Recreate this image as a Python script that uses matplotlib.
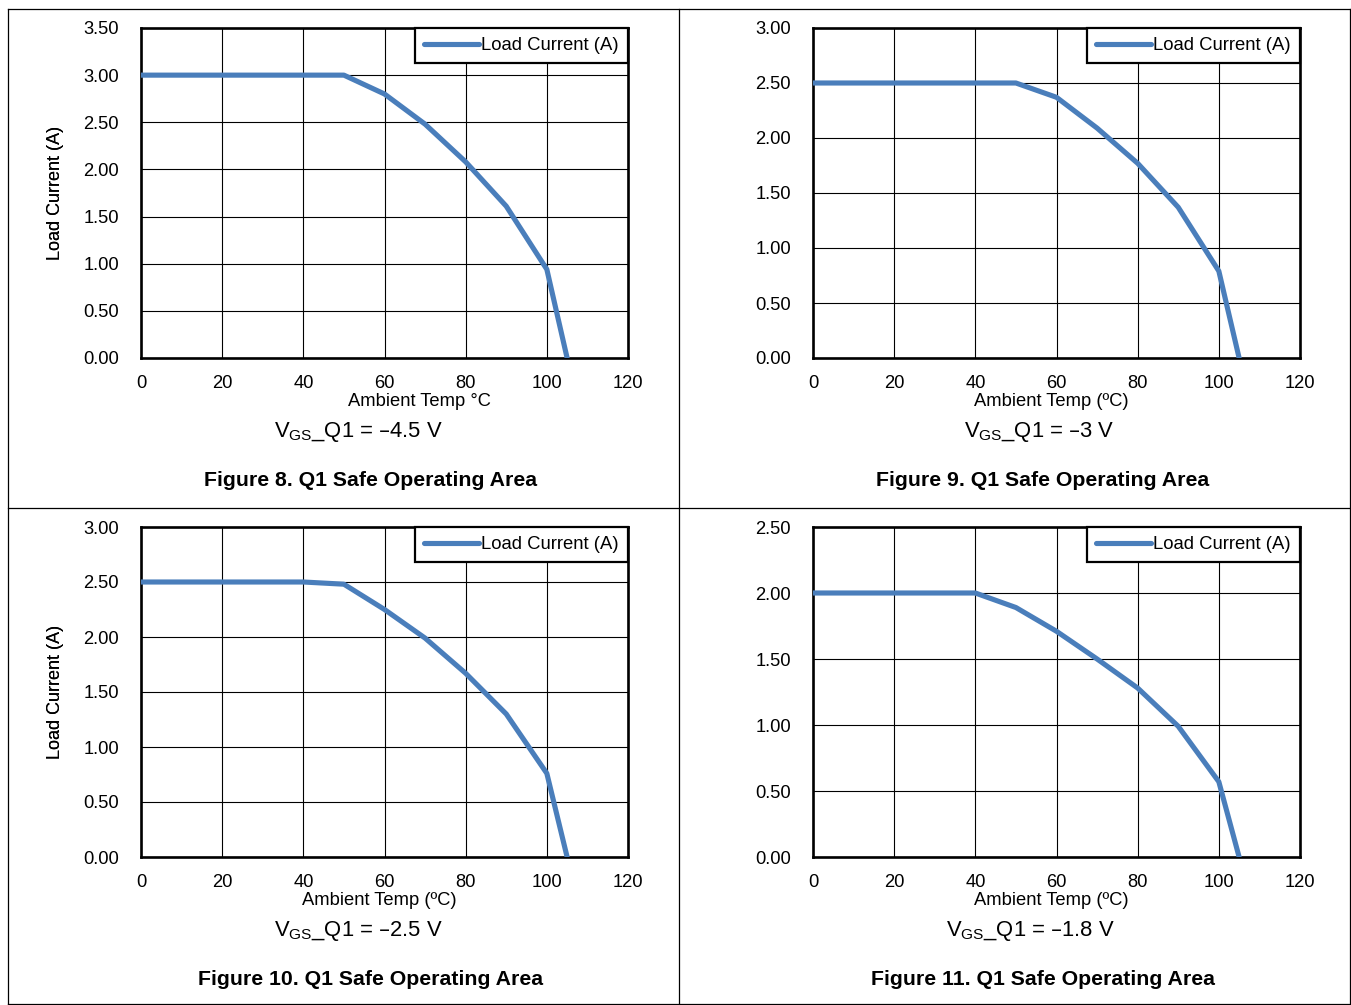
import numpy as np
import matplotlib.pyplot as plt
from matplotlib.lines import Line2D

plt.rcParams['font.family'] = ['Liberation Sans', 'DejaVu Sans']

W, H = 1351, 1005

# data
temp = [0, 10, 20, 30, 40, 50, 60, 70, 80, 90, 100, 105]
cur_45 = [3.00, 3.00, 3.00, 3.00, 3.00, 3.00, 2.80, 2.48, 2.08, 1.61, 0.94, 0.00]
cur_30 = [2.50, 2.50, 2.50, 2.50, 2.50, 2.50, 2.37, 2.09, 1.77, 1.37, 0.79, 0.00]
cur_25 = [2.50, 2.50, 2.50, 2.50, 2.50, 2.48, 2.25, 1.99, 1.67, 1.30, 0.76, 0.00]
cur_18 = [2.00, 2.00, 2.00, 2.00, 2.00, 1.89, 1.71, 1.50, 1.28, 0.99, 0.57, 0.00]

ymax = [3.5, 3.0, 3.0, 2.5]
xlabels = ['Ambient Temp \u00b0C', 'Ambient Temp (\u00baC)',
           'Ambient Temp (\u00baC)', 'Ambient Temp (\u00baC)']
vgs = ['\u20134.5 V', '\u20133 V', '\u20132.5 V', '\u20131.8 V']
captions = ['Figure 8. Q1 Safe Operating Area', 'Figure 9. Q1 Safe Operating Area',
            'Figure 10. Q1 Safe Operating Area', 'Figure 11. Q1 Safe Operating Area']
series = [cur_45, cur_30, cur_25, cur_18]

# pixel layout: axes box (left, top) and text centres
ax_pos = [(141, 28), (813, 28), (141, 527), (813, 527)]
xlab_pos = [(419, 401), (1051, 401), (379, 900), (1051, 900)]
vgs_pos = [(358, 432), (1039, 432), (358, 931), (1030, 931)]
cap_pos = [(371, 480), (1043, 480), (371, 979), (1043, 979)]
ax_w, ax_h = 487, 330

fig = plt.figure(figsize=(W / 100, H / 100), dpi=100)


def fx(x):
    return x / W


def fy(y):
    return 1 - y / H


# panel frame lines
for xs, ys in [([8, 8], [9, 1004]), ([679, 679], [9, 1004]), ([1350, 1350], [9, 1004]),
               ([8, 1350], [9, 9]), ([8, 1350], [508, 508]), ([8, 1350], [1004, 1004])]:
    fig.add_artist(Line2D([fx(v) for v in xs], [fy(v) for v in ys],
                          color='black', lw=0.9))

for i in range(4):
    l, t = ax_pos[i]
    ax = fig.add_axes([fx(l), fy(t + ax_h), ax_w / W, ax_h / H])
    ax.plot(temp, series[i], color='#4a7ebb', lw=3.7, solid_capstyle='round',
            label='Load Current (A)', zorder=3)
    ax.set_xlim(0, 120)
    ax.set_ylim(0, ymax[i])
    ax.set_xticks(np.arange(0, 121, 20))
    ax.set_yticks(np.arange(0, ymax[i] + 0.01, 0.5))
    ax.set_yticklabels(['%.2f' % v for v in np.arange(0, ymax[i] + 0.01, 0.5)])
    ax.grid(True, color='black', lw=0.8)
    ax.tick_params(length=0, labelsize=13.2)
    ax.tick_params(axis='y', pad=16)
    ax.tick_params(axis='x', pad=12)
    for s in ax.spines.values():
        s.set_linewidth(1.9)
    leg = ax.legend(loc='upper right', borderaxespad=0, fancybox=False,
                    edgecolor='black', framealpha=1, fontsize=13.3,
                    handlelength=3.0, handletextpad=0.1, borderpad=0.5)
    leg.get_frame().set_linewidth(1.6)

    fig.text(fx(55), fy(t + 165), 'Load Current (A)', rotation=90,
             ha='center', va='center', fontsize=13)
    fig.text(fx(xlab_pos[i][0]), fy(xlab_pos[i][1]), xlabels[i],
             ha='center', va='center', fontsize=13.2)
    fig.text(fx(vgs_pos[i][0]), fy(vgs_pos[i][1]),
             'V$_\\mathregular{GS}$_Q1 = ' + vgs[i],
             ha='center', va='center', fontsize=15.8)
    fig.text(fx(cap_pos[i][0]), fy(cap_pos[i][1]), captions[i],
             ha='center', va='center', fontsize=15.3, fontweight='bold')

fig.savefig('out.png', dpi=100)
